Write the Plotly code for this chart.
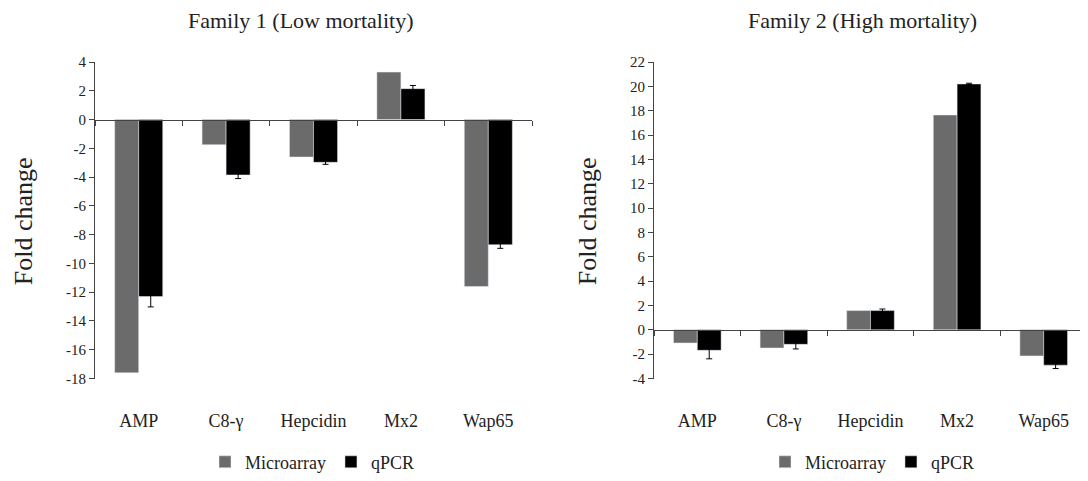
import plotly.graph_objects as go

categories = ["AMP", "C8-γ", "Hepcidin", "Mx2", "Wap65"]

fam1_micro = [-17.6, -1.75, -2.6, 3.3, -11.6]
fam1_qpcr = [-12.3, -3.85, -2.97, 2.15, -8.7]
fam1_qpcr_err = [0.72, 0.25, 0.14, 0.22, 0.25]

fam2_micro = [-1.08, -1.49, 1.58, 17.65, -2.14]
fam2_qpcr = [-1.68, -1.19, 1.58, 20.2, -2.9]
fam2_qpcr_err = [0.7, 0.38, 0.13, 0.06, 0.28]

fam1_ticks = [-18, -16, -14, -12, -10, -8, -6, -4, -2, 0, 2, 4]
fam1_ticktext = ["-18", "-16", "-14", "-12", "-10", "-8", "-6", "-4", "-2", "0", "2", "4"]
fam2_ticks = [-4, -2, 0, 2, 4, 6, 8, 10, 12, 14, 16, 18, 20, 22]
fam2_ticktext = ["-4", "-2", "0", "2", "4", "6", "8", "10", "12", "14", "16", "18", "20", "22"]

OFF = 8  # page body margin
W, H = 1088 - OFF, 481 - OFF
FONT = "Liberation Serif"
GRAY = "#6b6b6b"
AXC = "#444444"
TXT = "#222222"


def px_x(x):
    return (x - OFF) / W


def px_y(y):
    return 1 - (y - OFF) / H


ydom = [px_y(381.7), px_y(62.5)]
x1dom = [px_x(95), px_x(532)]
x2dom = [px_x(654), px_x(1087)]
r1 = [-18, 4]
r2 = [-4, 22]


def zero_pos(r):
    return ydom[0] + (0 - r[0]) / (r[1] - r[0]) * (ydom[1] - ydom[0])


fig = go.Figure()

# Family 1
fig.add_trace(go.Bar(x=categories, y=fam1_micro, name="Microarray", marker=dict(color=GRAY),
                     xaxis="x", yaxis="y", legend="legend"))
fig.add_trace(go.Bar(x=categories, y=fam1_qpcr, name="qPCR", marker=dict(color="black"),
                     error_y=dict(type="data", array=fam1_qpcr_err, color="black", thickness=1, width=3),
                     xaxis="x", yaxis="y", legend="legend"))
# Family 2
fig.add_trace(go.Bar(x=categories, y=fam2_micro, name="Microarray", marker=dict(color=GRAY),
                     xaxis="x2", yaxis="y2", legend="legend2"))
fig.add_trace(go.Bar(x=categories, y=fam2_qpcr, name="qPCR", marker=dict(color="black"),
                     error_y=dict(type="data", array=fam2_qpcr_err, color="black", thickness=1, width=3),
                     xaxis="x2", yaxis="y2", legend="legend2"))

# helper invisible traces for zero-line category axes
fig.add_trace(go.Scatter(x=categories, y=[0] * len(categories), mode="markers", marker=dict(opacity=0),
                         xaxis="x3", yaxis="y", showlegend=False, hoverinfo="skip"))
fig.add_trace(go.Scatter(x=categories, y=[0] * len(categories), mode="markers", marker=dict(opacity=0),
                         xaxis="x4", yaxis="y2", showlegend=False, hoverinfo="skip"))

tickfont = dict(family=FONT, size=15, color=TXT)
catfont = dict(family=FONT, size=18, color=TXT)

common_y = dict(showgrid=False, zeroline=False, showline=True, linecolor=AXC, linewidth=1,
                ticks="outside", ticklen=5, tickcolor=AXC, tickfont=tickfont, domain=ydom,
                automargin=False)

cat_bottom = dict(anchor="free", position=px_y(411), type="category",
                  range=[-0.5, 4.5], showline=False, ticks="", showgrid=False, tickfont=catfont,
                  automargin=False)
cat_zero = dict(anchor="free", type="category",
                range=[-0.5, 4.5], showline=True, linecolor=AXC, linewidth=1, ticks="outside",
                tickson="boundaries", ticklen=5, tickcolor=AXC, showticklabels=False,
                showgrid=False, automargin=False, categoryarray=categories, categoryorder="array")

legfont = dict(family=FONT, size=18, color=TXT)

fig.update_layout(
    width=W, height=H,
    font=dict(family=FONT, color=TXT),
    margin=dict(l=0, r=0, t=0, b=0),
    plot_bgcolor="white", paper_bgcolor="white",
    barmode="group", bargap=0.45, bargroupgap=0,
    xaxis=dict(domain=x1dom, **cat_bottom),
    xaxis2=dict(domain=x2dom, **cat_bottom),
    xaxis3=dict(domain=x1dom, overlaying="x", position=zero_pos(r1), **cat_zero),
    xaxis4=dict(domain=x2dom, overlaying="x2", position=zero_pos(r2), **cat_zero),
    yaxis=dict(anchor="x", range=r1, tickvals=fam1_ticks, ticktext=fam1_ticktext, **common_y),
    yaxis2=dict(anchor="x2", range=r2, tickvals=fam2_ticks, ticktext=fam2_ticktext, **common_y),
    legend=dict(orientation="h", x=px_x(312), y=px_y(466), xanchor="center", yanchor="middle",
                font=legfont, itemwidth=30, tracegroupgap=0, bgcolor="rgba(0,0,0,0)"),
    legend2=dict(orientation="h", x=px_x(872), y=px_y(466), xanchor="center", yanchor="middle",
                 font=legfont, itemwidth=30, tracegroupgap=0, bgcolor="rgba(0,0,0,0)"),
    annotations=[
        dict(text="Family 1 (Low mortality)", x=px_x(300), y=px_y(21), xref="paper", yref="paper",
             showarrow=False, font=dict(family=FONT, size=22, color=TXT), xanchor="center", yanchor="middle"),
        dict(text="Family 2 (High mortality)", x=px_x(862), y=px_y(21), xref="paper", yref="paper",
             showarrow=False, font=dict(family=FONT, size=22, color=TXT), xanchor="center", yanchor="middle"),
        dict(text="Fold change", x=px_x(23), y=px_y(223), xref="paper", yref="paper", textangle=-90,
             showarrow=False, font=dict(family=FONT, size=26, color=TXT), xanchor="center", yanchor="middle"),
        dict(text="Fold change", x=px_x(587), y=px_y(223), xref="paper", yref="paper", textangle=-90,
             showarrow=False, font=dict(family=FONT, size=26, color=TXT), xanchor="center", yanchor="middle"),
    ],
)

fig.write_html("out.html")
